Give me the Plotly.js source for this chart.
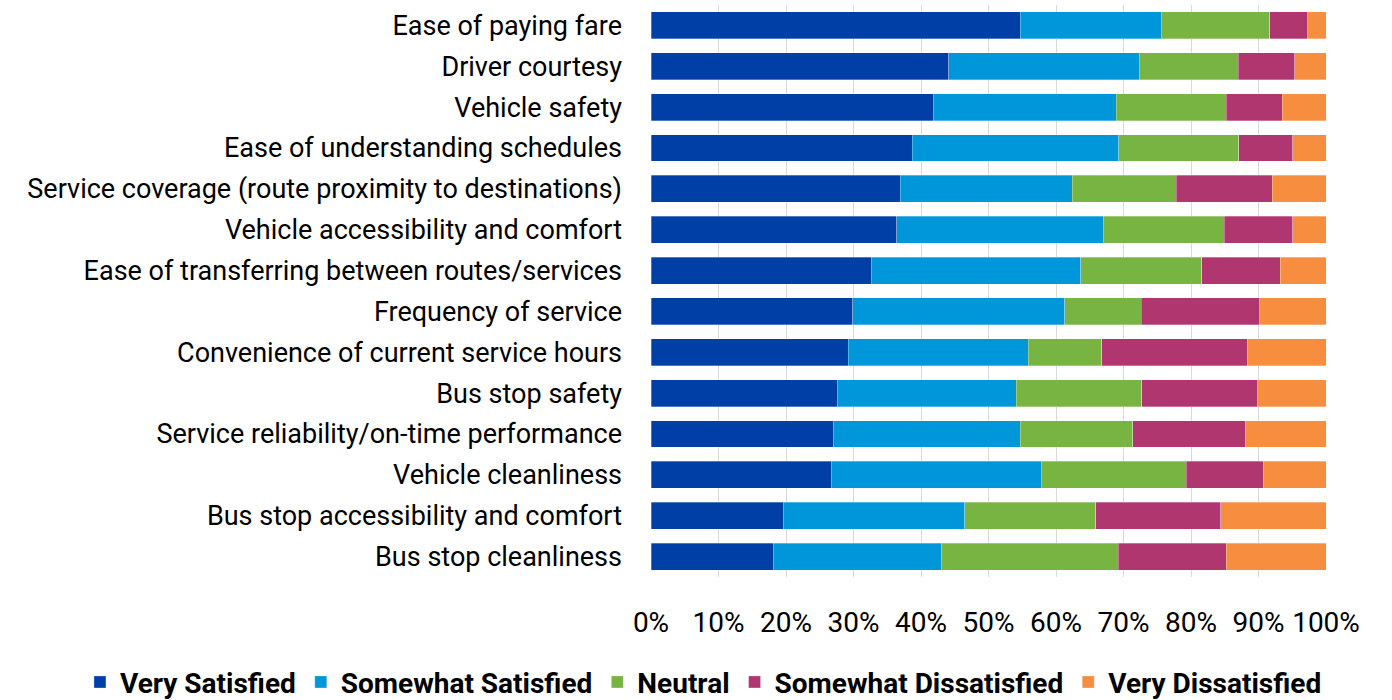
<!DOCTYPE html>
<html><head><meta charset="utf-8">
<script src="https://cdn.plot.ly/plotly-3.0.1.min.js"></script>
<style>html,body{margin:0;padding:0;background:#fff}#chart{width:1392px;height:700px}</style>
</head><body><div id="chart"></div>
<script>
const categories = [
  "Ease of paying fare",
  "Driver courtesy",
  "Vehicle safety",
  "Ease of understanding schedules",
  "Service coverage (route proximity to destinations)",
  "Vehicle accessibility and comfort",
  "Ease of transferring between routes/services",
  "Frequency of service",
  "Convenience of current service hours",
  "Bus stop safety",
  "Service reliability/on-time performance",
  "Vehicle cleanliness",
  "Bus stop accessibility and comfort",
  "Bus stop cleanliness"
];
const verySatisfied       = [54.7, 44.1, 41.8, 38.7, 36.9, 36.4, 32.6, 29.9, 29.2, 27.6, 27.0, 26.8, 19.7, 18.1];
const somewhatSatisfied   = [20.9, 28.2, 27.1, 30.6, 25.5, 30.6, 31.1, 31.4, 26.7, 26.5, 27.7, 31.0, 26.8, 24.9];
const neutral             = [16.1, 14.7, 16.3, 17.8, 15.4, 17.9, 17.9, 11.3, 10.9, 18.6, 16.7, 21.5, 19.4, 26.2];
const somewhatDissatisfied= [5.6, 8.4, 8.3, 8.0, 14.2, 10.2, 11.6, 17.6, 21.5, 17.2, 16.6, 11.4, 18.5, 16.0];
const veryDissatisfied    = [2.7, 4.6, 6.5, 4.9, 8.0, 4.9, 6.8, 9.8, 11.7, 10.1, 12.0, 9.3, 15.6, 14.8];
const seriesNames = ["Very Satisfied", "Somewhat Satisfied", "Neutral", "Somewhat Dissatisfied", "Very Dissatisfied"];
const seriesColors = ["#003FA6", "#0096DA", "#77B442", "#B03670", "#F68D3F"];
const xTickVals = [0,10,20,30,40,50,60,70,80,90,100];
const xTickText = ["0%","10%","20%","30%","40%","50%","60%","70%","80%","90%","100%"];

const allSeries = [verySatisfied, somewhatSatisfied, neutral, somewhatDissatisfied, veryDissatisfied];
const data = allSeries.map((vals, i) => ({
  type: 'bar', orientation: 'h',
  y: categories, x: vals, name: seriesNames[i],
  marker: {color: seriesColors[i], line: {color: 'rgba(255,255,255,0.6)', width: 0.5}},
  hoverinfo: 'x+name'
}));

const font = "Roboto, 'DejaVu Sans Condensed', sans-serif";
const layout = {
  width: 1392, height: 700,
  margin: {l: 651, r: 66, t: 5, b: 123, autoexpand: false},
  barmode: 'stack', bargap: 0.34,
  paper_bgcolor: '#fff', plot_bgcolor: '#fff',
  font: {family: font, color: '#000', size: 27},
  xaxis: {
    range: [0, 100], tickvals: xTickVals, ticktext: xTickText,
    showgrid: true, gridcolor: '#d9d9d9', gridwidth: 1,
    zeroline: false, showline: false, ticks: '',
    ticklabelstandoff: 26, tickfont: {size: 28, family: font}
  },
  yaxis: {
    autorange: 'reversed', type: 'category',
    showgrid: false, zeroline: false, showline: false, ticks: '',
    ticklabelstandoff: 28, tickfont: {size: 27, family: font}
  },
  legend: {
    orientation: 'h', xref: 'paper', yref: 'paper',
    x: -0.846, xanchor: 'left', y: -0.184, yanchor: 'middle',
    font: {size: 28, family: font, weight: 'bold'},
    traceorder: 'normal', itemwidth: 30
  },
  showlegend: true
};
Plotly.newPlot('chart', data, layout, {displayModeBar: false, staticPlot: true});
</script></body></html>
